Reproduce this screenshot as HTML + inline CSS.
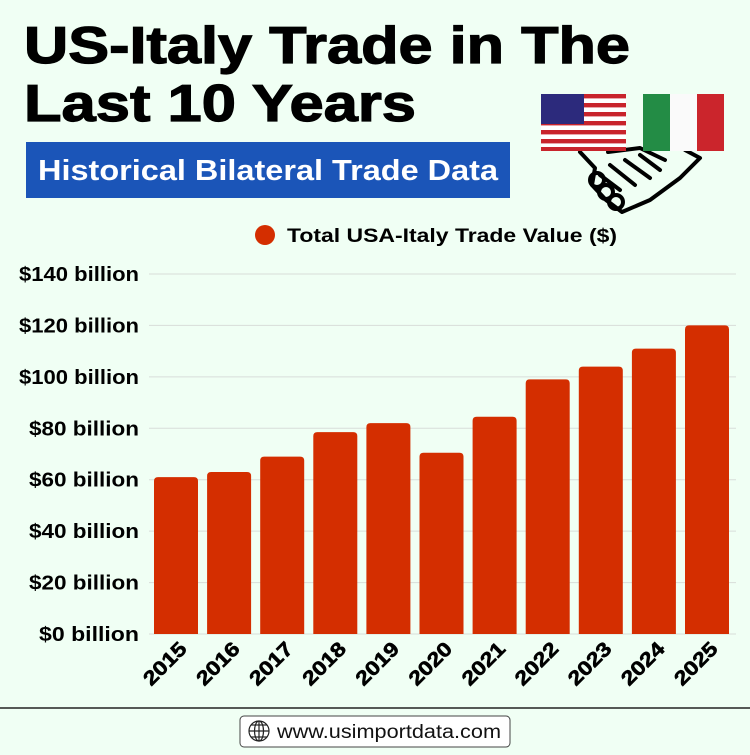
<!DOCTYPE html>
<html><head><meta charset="utf-8"><style>
body{margin:0;width:750px;height:750px;background:#f0fff4;overflow:hidden;font-family:"Liberation Sans",sans-serif}
</style></head><body>
<svg width="750" height="750" xmlns="http://www.w3.org/2000/svg">
<rect width="750" height="750" fill="#f0fff4"/>
<text x="24" y="63" font-size="52" font-weight="900" fill="#000" stroke="#000" stroke-width="1.2" textLength="606" lengthAdjust="spacingAndGlyphs">US-Italy Trade in The</text>
<text x="24" y="121" font-size="52" font-weight="900" fill="#000" stroke="#000" stroke-width="1.2" textLength="392" lengthAdjust="spacingAndGlyphs">Last 10 Years</text>
<rect x="26" y="142" width="484" height="56" fill="#1b55b8"/>
<text x="38" y="180" font-size="29" font-weight="bold" fill="#fff" textLength="460" lengthAdjust="spacingAndGlyphs">Historical Bilateral Trade Data</text>
<g fill="none" stroke="#000" stroke-width="4" stroke-linejoin="round" stroke-linecap="round">
<path d="M580 152 L595 168 L592 185 L606 200 L622 212 L650 200 L680 178 L700 158 L685 150"/>
<path d="M608 152 L640 148 L665 160"/>
<path d="M600 175 L620 190 M610 165 L635 185 M625 160 L650 178 M640 155 L660 170"/>
<circle cx="597" cy="180" r="7"/><circle cx="606" cy="192" r="7"/><circle cx="616" cy="202" r="7"/>
</g>
<g>
<rect x="541" y="94" width="85" height="57" fill="#fff"/>
<g fill="#c8242c">
<rect x="541" y="94" width="85" height="4.4"/><rect x="541" y="103" width="85" height="4.4"/><rect x="541" y="112" width="85" height="4.4"/><rect x="541" y="121" width="85" height="4.4"/><rect x="541" y="130" width="85" height="4.4"/><rect x="541" y="139" width="85" height="4.4"/><rect x="541" y="147" width="85" height="4"/>
</g>
<rect x="541" y="94" width="43" height="30" fill="#2c2a7c"/>
</g>
<g>
<rect x="643" y="94" width="27" height="57" fill="#238c45"/>
<rect x="670" y="94" width="27" height="57" fill="#fafafa"/>
<rect x="697" y="94" width="27" height="57" fill="#cb252c"/>
</g>
<circle cx="265" cy="235" r="10" fill="#d42e00"/>
<text x="287" y="242" font-size="19" font-weight="bold" fill="#000" textLength="330" lengthAdjust="spacingAndGlyphs">Total USA-Italy Trade Value ($)</text>
<g id="grid"></g><g id="bars"></g><g id="ylab"></g><g id="xlab"></g>
<line x1="0" y1="708" x2="750" y2="708" stroke="#222" stroke-width="1.5"/>
<rect x="240" y="716" width="270" height="31" rx="4" fill="#fff" stroke="#444" stroke-width="1"/>
<g fill="none" stroke="#222" stroke-width="1.2">
<circle cx="259" cy="731" r="10"/><ellipse cx="259" cy="731" rx="4.5" ry="10"/><line x1="249" y1="731" x2="269" y2="731"/><line x1="251" y1="725" x2="267" y2="725"/><line x1="251" y1="737" x2="267" y2="737"/><line x1="259" y1="721" x2="259" y2="741"/>
</g>
<text x="277" y="738" font-size="19" fill="#111" textLength="224" lengthAdjust="spacingAndGlyphs">www.usimportdata.com</text>
</svg>
<script>
const years=["2015","2016","2017","2018","2019","2020","2021","2022","2023","2024","2025"];
const values=[61,63,69,78.5,82,70.5,84.5,99,104,111,120];
const ticks=[0,20,40,60,80,100,120,140];
const tickLabels=["$0 billion","$20 billion","$40 billion","$60 billion","$80 billion","$100 billion","$120 billion","$140 billion"];
const NS="http://www.w3.org/2000/svg";
const y0=634,y1=274,vmax=140;
function y(v){return y0-(y0-y1)*v/vmax;}
const left=149,step=53.1,bw=44;
function x(i){return left+5+i*step;}
function mk(t,a,p){const e=document.createElementNS(NS,t);for(const k in a)e.setAttribute(k,a[k]);document.getElementById(p).appendChild(e);return e;}
ticks.forEach((t,i)=>{
 const g=mk("line",{x1:left,x2:736,y1:y(t),y2:y(t),stroke:"#d8ddd9","stroke-width":1},"grid");
 
 
 const l=mk("text",{x:139,y:y(t)+7,"text-anchor":"end","font-size":20,"font-weight":"bold",fill:"#000",textLength:(tickLabels[i].length*10),lengthAdjust:"spacingAndGlyphs"},"ylab");
 l.textContent=tickLabels[i];
 
 
});
years.forEach((yr,i)=>{
 const b=mk("path",{d:`M${x(i)} ${y0} V${y(values[i])+4} Q${x(i)} ${y(values[i])} ${x(i)+4} ${y(values[i])} H${x(i)+bw-4} Q${x(i)+bw} ${y(values[i])} ${x(i)+bw} ${y(values[i])+4} V${y0} Z`,fill:"#d42e00"},"bars");
 
 
 const cx=x(i)+bw/2+12, cy=650;
 const t=mk("text",{x:cx,y:cy,"text-anchor":"end","font-size":20,"font-weight":"bold",fill:"#000",stroke:"#000","stroke-width":0.6,textLength:52,lengthAdjust:"spacingAndGlyphs",transform:`rotate(-45 ${cx} ${cy})`},"xlab");
 t.textContent=yr;
 
 
});
</script>
</body></html>
